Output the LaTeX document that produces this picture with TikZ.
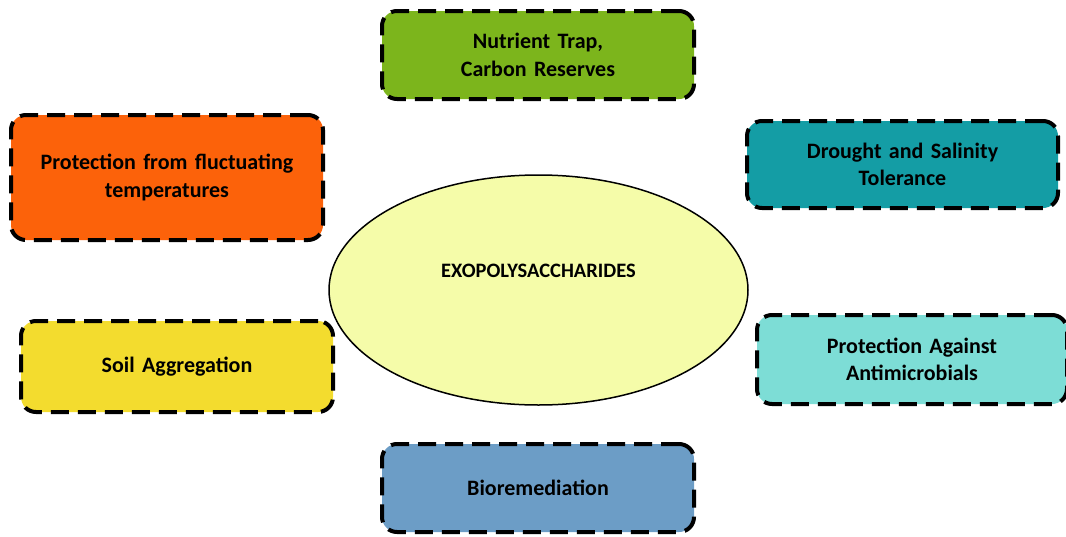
\documentclass[tikz,border=0pt]{standalone}
\usepackage{fontspec}
\setmainfont{Carlito}
\usepackage{xcolor}
\usetikzlibrary{shapes.geometric, positioning}
\definecolor{trapgreen}{RGB}{124,181,28}
\definecolor{heatorange}{RGB}{252,98,10}
\definecolor{droughtteal}{RGB}{20,157,165}
\definecolor{soilyellow}{RGB}{243,220,46}
\definecolor{microbteal}{RGB}{125,221,214}
\definecolor{bioblue}{RGB}{108,157,198}
\definecolor{epsfill}{RGB}{245,252,169}
\tikzset{
  role/.style={rectangle, draw=black, line width=4pt, rounded corners=15pt,
               dash pattern=on 18pt off 9pt, minimum width=312pt,
               minimum height=88pt, text width=300pt, align=center,
               font=\fontsize{22}{27.5}\selectfont\bfseries},
  core/.style={ellipse, draw=black, line width=1.5pt, fill=epsfill,
               minimum width=419pt, minimum height=230pt, inner sep=0pt,
               text height=15pt, text depth=41pt,
               font=\fontsize{20.5}{24}\selectfont\bfseries},
}

\begin{document}
\begin{tikzpicture}[x=1pt, y=-1pt]
  \useasboundingbox (0,0) rectangle (1066,536);

  \node[core] (eps) at (538.5,290) {EXOPOLYSACCHARIDES};

  \node[role, fill=trapgreen] (trap) at (538,55)
    {Nutrient Trap,\\Carbon Reserves};
  \node[role, fill=heatorange, minimum height=125pt] (temp) at (167,177.5)
    {Protection from fluctuating\\temperatures};
  \node[role, fill=droughtteal, minimum width=311pt, minimum height=87pt]
    (drought) at (902.5,164.5) {Drought and Salinity\\Tolerance};
  \node[role, fill=soilyellow, minimum height=91pt] (soil) at (177,366.5)
    {Soil Aggregation};
  \node[role, fill=microbteal, minimum width=310pt, minimum height=89pt]
    (microb) at (912,359.5) {Protection Against\\Antimicrobials};
  \node[role, fill=bioblue] (bio) at (538,488) {Bioremediation};
\end{tikzpicture}
\end{document}
